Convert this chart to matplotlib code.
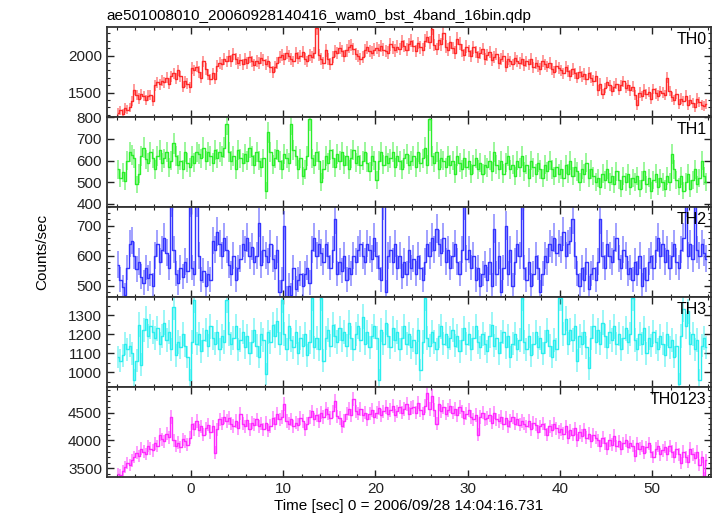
import numpy as np
import matplotlib
matplotlib.use("Agg")
import matplotlib.pyplot as plt
from matplotlib.ticker import MultipleLocator

plt.rcParams['font.family'] = ['Liberation Sans', 'DejaVu Sans']

# bin start and width (sec), 16 bins per row = 4 sec
t0 = -8.0
dt = 0.25
err_dt = 0.3   # exposure used for the error bars

th0 = [
    1230, 1260, 1210, 1290, 1270, 1300, 1380, 1540, 1470, 1420, 1480, 1450, 1400, 1460, 1470, 1380,
    1600, 1640, 1610, 1660, 1640, 1700, 1620, 1720, 1760, 1690, 1800, 1720, 1580, 1650, 1620, 1570,
    1830, 1800, 1850, 1780, 1700, 1920, 1820, 1740, 1680, 1760, 1690, 1860, 1900, 1880, 1950, 1920,
    1990, 1930, 2020, 1960, 1900, 1940, 1880, 1960, 1900, 1980, 1920, 1870, 1930, 1900, 1970, 1940,
    1880, 1920, 1840, 1780, 1850, 1900, 1980, 2010, 1960, 2040, 1990, 1950, 1920, 2030, 1970, 2000,
    2050, 1960, 1920, 2010, 1980, 2030, 2370, 2010, 1950, 1900, 2070, 1960, 1890, 1980, 2060, 2030,
    2100, 2060, 1990, 2070, 2120, 2140, 2090, 2020, 2000, 1950, 1980, 2070, 2110, 2060, 2040, 2080,
    2100, 2070, 2130, 2080, 2060, 2040, 2150, 2110, 2070, 2120, 2090, 2190, 2130, 2080, 2150, 2200,
    2130, 2060, 2170, 2110, 2080, 2200, 2250, 2180, 2360, 2140, 2090, 2210, 2150, 2300, 2120, 2080,
    2180, 2100, 2040, 2230, 2160, 2070, 2010, 2120, 2060, 2000, 2110, 2050, 1980, 2030, 2090, 1960,
    2010, 2050, 1940, 1980, 2020, 1900, 1960, 2000, 1850, 1950, 1920, 1880, 1970, 1930, 1900, 1950,
    1870, 1920, 1880, 1960, 1840, 1900, 1860, 1820, 1930, 1880, 1850, 1900, 1820, 1780, 1860, 1830,
    1800, 1760, 1850, 1790, 1730, 1820, 1760, 1700, 1780, 1720, 1750, 1680, 1770, 1700, 1660, 1720,
    1530, 1620, 1480, 1560, 1640, 1600, 1520, 1580, 1620, 1540, 1600, 1650, 1560, 1600, 1530, 1580,
    1470, 1330, 1500, 1450, 1540, 1480, 1510, 1420, 1550, 1490, 1460, 1520, 1500, 1470, 1700, 1520,
    1440, 1400, 1480, 1350, 1420, 1380, 1460, 1330, 1400, 1360, 1300, 1420, 1370, 1330, 1320, 1350,
]

th1 = [
    560, 520, 545, 505, 600, 640, 625, 610, 490, 540, 620, 660, 605, 590, 640, 610,
    560, 620, 650, 590, 610, 640, 570, 600, 680, 620, 580, 600, 560, 640, 590, 570,
    620, 590, 640, 630, 610, 660, 600, 640, 620, 590, 650, 610, 640, 620, 660, 770,
    640, 600, 620, 560, 650, 610, 590, 630, 600, 660, 620, 580, 640, 600, 570, 610,
    460, 730, 640, 580, 610, 650, 600, 560, 630, 610, 590, 770, 650, 620, 560, 610,
    530, 560, 620, 790, 610, 580, 640, 600, 500, 560, 620, 590, 650, 610, 570, 630,
    600, 640, 580, 620, 560, 610, 650, 590, 620, 580, 600, 640, 590, 550, 620, 600,
    510, 600, 640, 580, 620, 590, 610, 640, 570, 620, 600, 560, 610, 630, 580, 600,
    620, 570, 640, 590, 610, 660, 580, 790, 620, 590, 640, 560, 610, 600, 570, 620,
    580, 600, 540, 620, 590, 560, 610, 570, 600, 540, 580, 610, 560, 590, 540, 580,
    570, 600, 550, 640, 580, 560, 600, 540, 590, 620, 560, 580, 530, 600, 570, 620,
    550, 580, 520, 600, 570, 540, 590, 560, 520, 580, 550, 600, 560, 530, 570, 540,
    560, 520, 580, 540, 600, 530, 570, 550, 500, 560, 540, 590, 520, 560, 530, 500,
    520, 480, 540, 510, 560, 500, 530, 490, 550, 510, 470, 530, 500, 540, 480, 520,
    500, 530, 470, 510, 550, 490, 520, 460, 510, 540, 480, 520, 500, 470, 530, 500,
    630, 560, 510, 480, 530, 460, 500, 540, 470, 510, 560, 490, 520, 600, 530, 500,
]

th2 = [
    570, 520, 495, 470, 560, 640, 650, 600, 555, 580, 530, 510, 560, 525, 540, 500,
    600, 640, 580, 620, 660, 610, 560, 780, 620, 540, 510, 560, 530, 580, 550, 780,
    560, 540, 780, 600, 520, 550, 500, 540, 520, 650, 620, 680, 640, 600, 660, 620,
    570, 540, 600, 520, 560, 590, 640, 620, 660, 600, 630, 580, 600, 710, 570, 620,
    600, 580, 640, 590, 560, 620, 480, 520, 700, 460, 500, 470, 560, 490, 520, 540,
    500, 540, 560, 510, 620, 660, 600, 640, 610, 580, 640, 600, 560, 620, 720, 540,
    580, 550, 600, 520, 560, 540, 600, 580, 620, 640, 600, 580, 640, 620, 590, 660,
    600, 560, 520, 770, 480, 600, 620, 580, 640, 560, 600, 530, 580, 540, 620, 560,
    590, 540, 600, 560, 520, 580, 640, 600, 660, 620, 690, 640, 610, 660, 580, 620,
    560, 600, 640, 580, 540, 620, 770, 590, 620, 560, 600, 520, 560, 500, 540, 570,
    520, 580, 500, 690, 540, 600, 480, 560, 700, 540, 620, 500, 580, 640, 600, 770,
    560, 520, 580, 500, 540, 600, 560, 480, 540, 600, 580, 640, 620, 660, 610, 640,
    620, 680, 600, 640, 650, 720, 600, 540, 500, 560, 520, 580, 490, 540, 560, 520,
    580, 720, 600, 560, 640, 600, 580, 620, 660, 590, 560, 620, 600, 540, 560, 520,
    580, 540, 600, 500, 560, 520, 580, 600, 560, 620, 660, 600, 640, 580, 620, 560,
    600, 640, 580, 560, 620, 660, 780, 600, 640, 590, 780, 620, 600, 640, 610, 590,
]

th3 = [
    1080, 1060, 1090, 1150, 1120, 1140, 1100, 960, 1060, 1250, 1040, 1220, 1280, 1190, 1240, 1210,
    1180, 1230, 1150, 1190, 1260, 1170, 1210, 1120, 1340, 1090, 1160, 1130, 1200, 1140, 1080, 960,
    1160, 1380, 1150, 1200, 1110, 1170, 1220, 1140, 1240, 1180, 1150, 1210, 1120, 1190, 1160, 1380,
    1200, 1150, 1180, 1240, 1120, 1170, 1210, 1130, 1190, 1100, 1160, 1220, 1140, 1080, 1200, 1170,
    990, 1210, 1160, 1250, 1190, 1270, 1150, 1380, 1200, 1120, 1240, 1170, 1130, 1210, 1100, 1180,
    1140, 1200, 1090, 1160, 1390, 1130, 1180, 1120, 1390, 1060, 1180, 1220, 1140, 1250, 1190, 1160,
    1230, 1170, 1210, 1140, 1260, 1180, 1120, 1200, 1240, 1170, 1290, 1150, 1210, 1130, 1190, 1240,
    1180, 960, 1220, 1150, 1260, 1190, 1130, 1230, 1170, 1210, 1120, 1180, 1240, 1150, 1200, 1130,
    1170, 1100, 1220, 1010, 1160, 1390, 1180, 1140, 1210, 1160, 1120, 1190, 1240, 1150, 1200, 1130,
    1180, 1220, 1140, 1190, 1110, 1170, 1230, 1150, 1200, 1120, 1180, 1240, 1160, 1130, 1200, 1150,
    1110, 1190, 1250, 1140, 1180, 1100, 1160, 1210, 1130, 1190, 1080, 1150, 1200, 1120, 1170, 1390,
    1160, 1120, 1190, 1090, 1150, 1210, 1130, 1180, 1100, 1160, 1220, 1140, 1080, 1170, 1120, 1390,
    1390, 1200, 1280, 1150, 1220, 1170, 1240, 1060, 1190, 1150, 1210, 1130, 1020, 1180, 1240, 1160,
    1220, 1150, 1260, 1190, 1130, 1210, 1170, 1240, 1150, 1200, 1120, 1180, 1230, 1160, 1200, 1390,
    1170, 1120, 1200, 1150, 1230, 1100, 1180, 1140, 1210, 1160, 1120, 1190, 1150, 1090, 1200, 1130,
    1170, 1080, 1140, 940, 1190, 1330, 1240, 1320, 1150, 1200, 1120, 1170, 960, 1140, 1180, 1130,
]

th0123 = [
    3400, 3380, 3450, 3520, 3600, 3560, 3640, 3700, 3780, 3720, 3850, 3800, 3760, 3900, 3850, 3820,
    3950, 3900, 4100, 4020, 3980, 4120, 4060, 4420, 4000, 3900, 3960, 3880, 4020, 3980, 3920, 4050,
    4300, 4200, 4350, 4180, 4250, 4100, 4220, 4280, 4150, 4250, 3780, 4200, 4380, 4300, 4420, 4350,
    4400, 4300, 4260, 4350, 4220, 4480, 4300, 4250, 4360, 4200, 4320, 4280, 4380, 4250, 4300, 4200,
    4320, 4180, 4260, 4400, 4300, 4480, 4380, 4420, 4660, 4350, 4300, 4380, 4250, 4320, 4280, 4400,
    4350, 4200, 4300, 4420, 4520, 4380, 4460, 4350, 4500, 4420, 4560, 4480, 4400, 4520, 4700, 4430,
    4400, 4250, 4350, 4480, 4560, 4450, 4750, 4520, 4480, 4560, 4450, 4500, 4380, 4480, 4540, 4420,
    4500, 4580, 4450, 4520, 4600, 4480, 4550, 4620, 4450, 4520, 4600, 4500, 4560, 4650, 4480, 4580,
    4600, 4500, 4680, 4550, 4480, 4620, 4850, 4560, 4800, 4550, 4300, 4650, 4520, 4600, 4480, 4550,
    4620, 4500, 4560, 4450, 4600, 4520, 4400, 4480, 4550, 4420, 4380, 4460, 4100, 4420, 4500, 4380,
    4400, 4460, 4320, 4500, 4380, 4350, 4420, 4300, 4400, 4250, 4350, 4420, 4300, 4380, 4280, 4350,
    4300, 4250, 4350, 4200, 4320, 4280, 4150, 4250, 4300, 4200, 4100, 4250, 4180, 4300, 4220, 4150,
    4200, 4120, 4250, 4050, 4180, 4100, 4220, 4000, 4150, 4080, 4200, 4050, 4120, 3980, 4100, 4050,
    4000, 3900, 4050, 3950, 3850, 4000, 3920, 4080, 3900, 3980, 3850, 3950, 4000, 3880, 3960, 3900,
    3720, 3950, 3850, 3900, 3780, 3880, 3950, 3800, 3700, 3850, 3900, 3750, 3820, 3880, 3750, 3900,
    3800, 3700, 3850, 3750, 3600, 3800, 3700, 3620, 3850, 3750, 3680, 3800, 3550, 3700, 3330, 3650,
]

names = ['TH0', 'TH1', 'TH2', 'TH3', 'TH0123']
series = [th0, th1, th2, th3, th0123]
colors = ['#ff2a2a', '#2aee2a', '#3535ff', '#2aeeee', '#ff2aff']
ylims = [(1172, 2388), (386, 802), (462, 762), (923, 1395), (3342, 4960)]
major = [500, 100, 100, 100, 500]
minor = [100, 100, 20, 50, 100]

fig, axes = plt.subplots(5, 1, sharex=True, figsize=(7.17, 5.16), dpi=100)
fig.subplots_adjust(left=0.149, right=0.992, top=0.948, bottom=0.0756, hspace=0)

for ax, name, vals, col, yl, mj, mn in zip(axes, names, series, colors, ylims, major, minor):
    y = np.array(vals, dtype=float)
    t = t0 + dt * np.arange(len(y)) + dt / 2
    err = np.sqrt(y / err_dt)
    ax.vlines(t, y - err, y + err, color=col, lw=1.3, alpha=0.5)
    ax.step(t, y, where='mid', color=col, lw=1.0)
    ax.set_ylim(*yl)
    ax.yaxis.set_major_locator(MultipleLocator(mj))
    ax.yaxis.set_minor_locator(MultipleLocator(mn))
    ax.xaxis.set_major_locator(MultipleLocator(10))
    ax.xaxis.set_minor_locator(MultipleLocator(2))
    ax.tick_params(which='both', direction='in', top=True, right=True, labelsize=11, colors='#222222')
    ax.tick_params(which='major', length=5, width=1.0)
    ax.tick_params(which='minor', length=2.5, width=0.8)
    for s in ax.spines.values():
        s.set_linewidth(1.3)
        s.set_color('#333333')
    ax.text(0.992, 0.86, name, transform=ax.transAxes, ha='right', va='center', fontsize=11.5)

axes[0].set_xlim(-9.1, 56.4)
axes[0].set_title('ae501008010_20060928140416_wam0_bst_4band_16bin.qdp', loc='left', fontsize=11, pad=5)
axes[-1].set_xlabel('Time [sec] 0 = 2006/09/28 14:04:16.731', fontsize=11, labelpad=2)
fig.text(0.059, 0.512, 'Counts/sec', rotation=90, ha='center', va='center', fontsize=11)

fig.savefig('out.png', dpi=100)
